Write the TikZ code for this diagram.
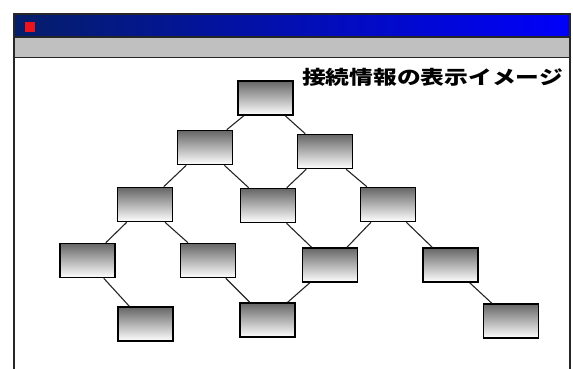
\documentclass[tikz,border=0pt]{standalone}
\usepackage{fontspec}
\usepackage{graphicx}
\newfontfamily\jpfont{Noto Sans CJK JP}
\usetikzlibrary{positioning}
\definecolor{barnavy}{RGB}{5,30,105}
\definecolor{barblue}{RGB}{0,0,250}
\definecolor{bargray}{RGB}{192,192,192}
\definecolor{dotred}{RGB}{235,20,30}
\tikzset{
  box/.style={rectangle, draw=black, line width=1.6pt, top color=black!60, bottom color=white,
              minimum width=55pt, minimum height=34pt, inner sep=0pt},
  link/.style={line width=1.1pt, black!85},
  frame/.style={line width=1.8pt, black!85},
}
\begin{document}
\begin{tikzpicture}[x=1pt, y=-1pt]
\useasboundingbox (0,0) rectangle (573,369);

% ---- Window ----
\shade[left color=barnavy, right color=barblue] (14,14) rectangle (570,37);
\fill[bargray] (14,37) rectangle (570,57);
\fill[dotred] (25,22) rectangle (35,32);
\draw[frame] (14,369) -- (14,14) -- (570,14) -- (570,369);
\draw[frame] (14,37) -- (570,37);
\draw[frame] (14,57.5) -- (570,57.5);

% ---- Title ----
\node[font=\jpfont\bfseries\fontsize{19}{19}\selectfont, inner sep=0pt] (title) at (432.5,77)
  {\scalebox{1.25}[1]{接続情報の表示イメージ}};

% ---- Tree ----
\node[box] (r) at (265.5,98) {};
\node[box] (a) at (205,147.5) {};
\node[box] (b) at (325,151.5) {};
\node[box] (c) at (145,204.5) {};
\node[box] (d) at (268,205.5) {};
\node[box] (e) at (388,204.5) {};
\node[box] (f) at (87.5,260.5) {};
\node[box] (g) at (208,260.5) {};
\node[box] (h) at (330,265) {};
\node[box] (i) at (450.5,265) {};
\node[box] (j) at (145.5,324) {};
\node[box] (k) at (267.5,320) {};
\node[box] (l) at (511,321) {};

% ---- Links ----
\foreach \a/\b in {r/a, r/b, a/c, a/d, b/d, b/e, c/f, c/g, d/h, e/h, e/i, f/j, g/k, h/k, i/l}
  \draw[link] (\a) -- (\b);
\end{tikzpicture}
\end{document}
